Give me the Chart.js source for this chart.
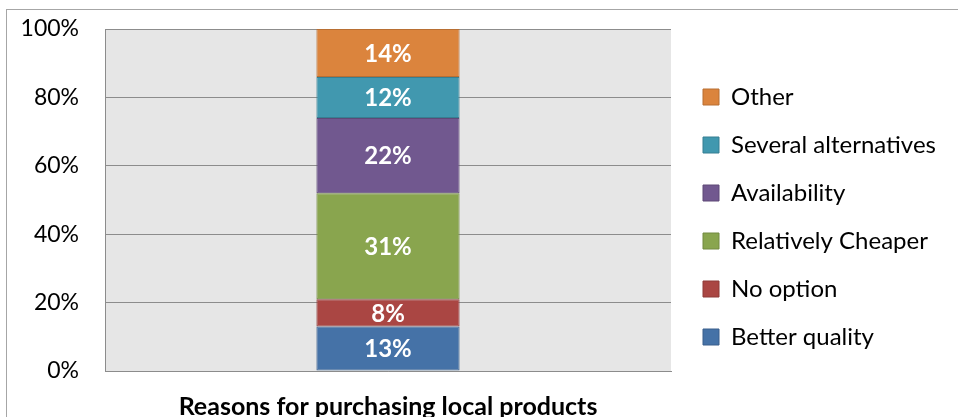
<!DOCTYPE html>
<html>
<head>
<meta charset="utf-8">
<script src="https://cdn.jsdelivr.net/npm/chart.js@4"></script>
<style>
  html, body { margin: 0; padding: 0; background: #fff; }
  #frame {
    position: absolute; left: 6px; top: 9px;
    width: 960px; height: 420px;
    border: 1px solid #a6a6a6;
  }
  #wrap { position: absolute; left: 0; top: 0; width: 958px; height: 417px; }
</style>
</head>
<body>
<div id="frame"></div>
<div id="wrap"><canvas id="chart"></canvas></div>
<script>
// Chart data
const categories = ['Reasons for purchasing local products'];
const seriesNames = ['Better quality', 'No option', 'Relatively Cheaper', 'Availability', 'Several alternatives', 'Other'];
const betterQuality = [13];
const noOption = [8];
const relativelyCheaper = [31];
const availability = [22];
const severalAlternatives = [12];
const other = [14];
const yTicks = [0, 20, 40, 60, 80, 100];

const seriesValues = [betterQuality, noOption, relativelyCheaper, availability, severalAlternatives, other];
const fillColors = ['#4572A7', '#AA4643', '#89A54E', '#71588F', '#4198AF', '#DB843D'];
const edgeColors = ['#3A5F8C', '#8E3A38', '#728A41', '#5E4977', '#367F92', '#B86F33'];

const FONT = 'Lato, "Open Sans", sans-serif';

// gray plot area behind the bars
const plotBackground = {
    id: 'plotBackground',
    beforeDraw(chart) {
        const { ctx, chartArea } = chart;
        ctx.save();
        ctx.fillStyle = '#E6E6E6';
        ctx.fillRect(chartArea.left, chartArea.top, chartArea.right - chartArea.left, chartArea.bottom - chartArea.top);
        ctx.restore();
    }
};

// white value labels in the middle of each segment
const segmentLabels = {
    id: 'segmentLabels',
    afterDatasetsDraw(chart) {
        const { ctx } = chart;
        ctx.save();
        ctx.fillStyle = '#fff';
        ctx.font = 'bold 24px ' + FONT;
        ctx.textAlign = 'center';
        ctx.textBaseline = 'middle';
        chart.data.datasets.forEach((ds, i) => {
            chart.getDatasetMeta(i).data.forEach((bar, j) => {
                ctx.fillText(ds.data[j] + '%', bar.x, (bar.y + bar.base) / 2 + 1);
            });
        });
        ctx.restore();
    }
};

// fixed legend width and a small shift to line up with the reference
const legendPlace = {
    id: 'legendPlace',
    beforeInit(chart) {
        const fit = chart.legend.fit;
        chart.legend.fit = function () {
            fit.bind(this)();
            this.width = 287;
        };
    },
    afterLayout(chart) {
        const lg = chart.legend;
        lg.left += 8;
        lg.right += 8;
        lg.top -= 6;
        lg.bottom -= 6;
    }
};

new Chart(document.getElementById('chart'), {
    type: 'bar',
    data: {
        labels: categories,
        datasets: seriesNames.map((name, i) => ({
            label: name,
            data: seriesValues[i],
            backgroundColor: fillColors[i],
            borderColor: edgeColors[i],
            borderWidth: 1,
            borderSkipped: false,
            barPercentage: 0.253,
            categoryPercentage: 1
        }))
    },
    options: {
        responsive: true,
        maintainAspectRatio: false,
        animation: false,
        layout: { padding: { top: 29, left: 0, right: 0, bottom: 0 } },
        plugins: {
            legend: {
                position: 'right',
                reverse: true,
                labels: {
                    boxWidth: 16,
                    boxHeight: 16,
                    padding: 24,
                    color: '#000',
                    font: { family: FONT, size: 24 }
                }
            },
            tooltip: { enabled: false }
        },
        scales: {
            x: {
                stacked: true,
                grid: { display: false, drawTicks: false },
                border: { color: '#8c8c8c', width: 1 },
                ticks: {
                    padding: 21,
                    maxRotation: 0,
                    color: '#000',
                    font: { family: FONT, size: 25, weight: 'bold' }
                },
                afterFit(scale) { scale.height = 46; }
            },
            y: {
                stacked: true,
                min: 0,
                max: 100,
                afterBuildTicks(scale) { scale.ticks = yTicks.map(v => ({ value: v })); },
                grid: { color: '#8c8c8c', lineWidth: 1, drawTicks: false },
                border: { color: '#8c8c8c', width: 1 },
                ticks: {
                    padding: 26,
                    color: '#000',
                    font: { family: FONT, size: 23 },
                    callback: v => v + '%'
                },
                afterFit(scale) {
                    scale.width = 105;
                    scale.paddingTop = 0;
                    scale.paddingBottom = 0;
                }
            }
        }
    },
    plugins: [plotBackground, segmentLabels, legendPlace]
});
</script>
</body>
</html>
